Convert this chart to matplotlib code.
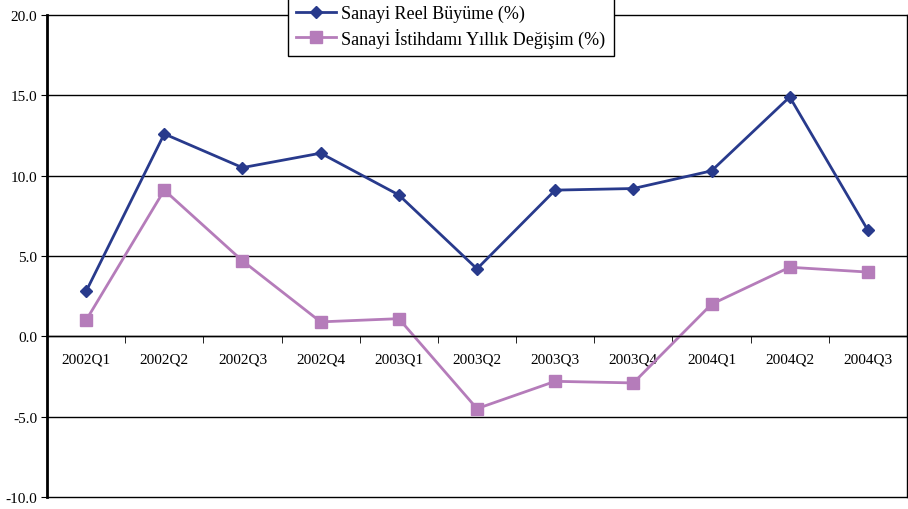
import numpy as np
import matplotlib.pyplot as plt
from matplotlib.ticker import FixedLocator, MultipleLocator

plt.rcParams['font.family'] = ['Liberation Serif', 'DejaVu Serif']

# veriler
quarters = ['2002Q1', '2002Q2', '2002Q3', '2002Q4', '2003Q1', '2003Q2',
            '2003Q3', '2003Q4', '2004Q1', '2004Q2', '2004Q3']
reel_buyume = [2.8, 12.6, 10.5, 11.4, 8.8, 4.2, 9.1, 9.2, 10.3, 14.9, 6.6]
istihdam = [1.0, 9.1, 4.7, 0.9, 1.1, -4.5, -2.8, -2.9, 2.0, 4.3, 4.0]

blue = '#283A8C'
purple = '#B57CBA'

fig = plt.figure(figsize=(9.08, 5.1), dpi=100)
ax = fig.add_axes([47/908, 12/510, 860/908, 482/510])

x = np.arange(len(quarters))
ax.plot(x, reel_buyume, color=blue, lw=2, marker='D', ms=6,
        label='Sanayi Reel Büyüme (%)')
ax.plot(x, istihdam, color=purple, lw=2, marker='s', ms=8,
        label='Sanayi İstihdamı Yıllık Değişim (%)')

ax.set_xlim(-0.5, len(quarters) - 0.5)
ax.set_ylim(-10, 20)
ax.yaxis.set_major_locator(MultipleLocator(5))
ax.set_yticklabels([f'{v:.1f}' for v in ax.get_yticks()])
ax.grid(axis='y', color='black', lw=1)
for gl in ax.get_ygridlines():
    gl.set_clip_on(False)
ax.set_axisbelow(True)

# x ekseni sıfır çizgisinde
ax.spines['bottom'].set_position(('data', 0))
ax.spines['bottom'].set_linewidth(1)
ax.spines['top'].set_visible(False)
ax.spines['left'].set_linewidth(2)
ax.spines['right'].set_linewidth(1)
ax.set_xticks(x)
ax.set_xticklabels(quarters, fontsize=11)
ax.xaxis.set_minor_locator(FixedLocator(np.arange(0.5, len(quarters) - 1, 1)))
ax.tick_params(axis='x', which='major', length=0, pad=12)
ax.tick_params(axis='x', which='minor', length=5, direction='out')
ax.tick_params(axis='y', length=4, labelsize=11, pad=3)

leg = ax.legend(loc='upper left', bbox_to_anchor=(288/908, 1.004),
                bbox_transform=fig.transFigure, fontsize=13, frameon=True,
                fancybox=False, edgecolor='black', framealpha=1,
                handlelength=2.2, borderpad=0.45, labelspacing=0.3,
                handletextpad=0.3, borderaxespad=0)
leg.get_frame().set_linewidth(1)

plt.savefig('out.png')
